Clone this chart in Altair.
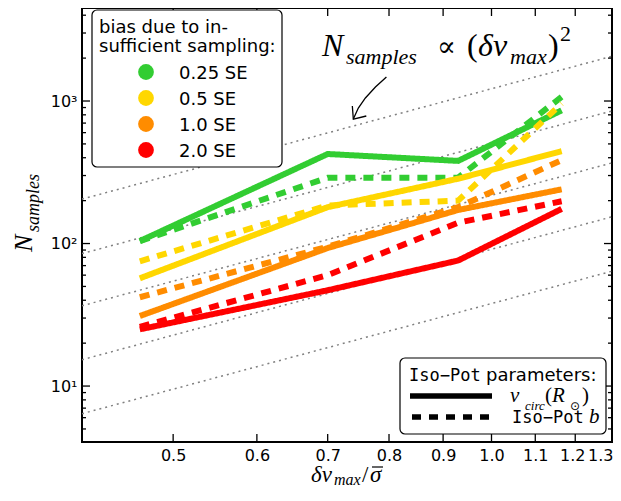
import altair as alt
import pandas as pd

# ---------------- data ----------------
dv = [0.465, 0.70, 0.93, 1.165]
bias_levels = ["0.25 SE", "0.5 SE", "1.0 SE", "2.0 SE"]
bias_colors = ["#32cd32", "#ffd700", "#ff8c00", "#ff0000"]

vcirc_025 = [104, 425, 380, 860]
vcirc_05 = [57, 180, 285, 445]
vcirc_10 = [31, 93, 172, 240]
vcirc_20 = [25, 47, 76, 175]

isob_025 = [104, 290, 290, 1070]
isob_05 = [75, 185, 200, 960]
isob_10 = [42, 95, 180, 385]
isob_20 = [26, 60, 140, 198]

# dotted N ~ dv^2 guide lines, values at the left / right plot edge
guide_x = [0.41, 1.30]
guide_left = [205, 85, 36.6, 15.3, 6.4]
guide_right = [2060, 852, 368, 154, 64]

x_ticks = [0.5, 0.6, 0.7, 0.8, 0.9, 1.0, 1.1, 1.2, 1.3]
y_major = [10, 100, 1000]
y_minor = [5, 6, 7, 8, 9, 20, 30, 40, 50, 60, 70, 80, 90,
           200, 300, 400, 500, 600, 700, 800, 900, 2000, 3000, 4000]

# arrow of the annotation (data coordinates)
arrow_x = [0.7955, 0.7767, 0.7599, 0.7483, 0.7402]
arrow_n = [1474, 1254, 1050, 893, 747]
head_x = [0.7386, 0.7402, 0.7614]
head_n = [922, 747, 785]

# ---------------- tables ----------------
rows = []
series = [("0.25 SE", vcirc_025, isob_025), ("0.5 SE", vcirc_05, isob_05),
          ("1.0 SE", vcirc_10, isob_10), ("2.0 SE", vcirc_20, isob_20)]
for order, (b, vc, ib) in enumerate(series):
    for x, n in zip(dv, vc):
        rows.append({"dv": x, "N": n, "bias": b, "param": "vcirc", "grp": order * 2})
    for x, n in zip(dv, ib):
        rows.append({"dv": x, "N": n, "bias": b, "param": "isob", "grp": order * 2 + 1})
df = pd.DataFrame(rows)

grows = []
for i, (l, r) in enumerate(zip(guide_left, guide_right)):
    grows.append({"dv": guide_x[0], "N": l, "g": i})
    grows.append({"dv": guide_x[1], "N": r, "g": i})
gdf = pd.DataFrame(grows)

W, H = 530, 434
SANS = "DejaVu Sans"
SERIF = "Liberation Serif"
MONO = "DejaVu Sans Mono"

xs = alt.Scale(type="log", domain=[0.41, 1.30], nice=False)
ys = alt.Scale(type="log", domain=[4.05, 4494], nice=False)
x_axis = alt.Axis(values=x_ticks, format=".1f", ticks=False, domain=False,
                  grid=False, labelFont=SANS, labelFontSize=16,
                  labelColor="black", labelPadding=5, labelFlush=3,
                  labelFlushOffset=1, labelOverlap=False, title=None,
                  labelOffset={"condition": {"test": "datum.value > 1.15 && datum.value < 1.25",
                                             "value": -3}, "value": 0})
y_axis = alt.Axis(values=y_major, ticks=False, domain=False, grid=False,
                  labelExpr="datum.value == 10 ? '10¹' : datum.value == 100 ? '10²' : '10³'",
                  labelFont=SANS, labelFontSize=16, labelColor="black",
                  labelPadding=5, labelOverlap=False, title=None)
X = alt.X("dv:Q", scale=xs, axis=x_axis)
Y = alt.Y("N:Q", scale=ys, axis=y_axis)

guides = alt.Chart(gdf).mark_line(color="#808080", strokeWidth=1.5,
                                  strokeDash=[2, 4], clip=True).encode(
    x=X, y=Y, detail="g:N")

lines = alt.Chart(df).mark_line(strokeWidth=6, clip=True).encode(
    x=X, y=Y,
    color=alt.Color("bias:N", scale=alt.Scale(domain=bias_levels, range=bias_colors),
                    legend=None),
    strokeDash=alt.StrokeDash("param:N",
                              scale=alt.Scale(domain=["vcirc", "isob"],
                                              range=[[1, 0], [10, 8]]),
                              legend=None),
    detail="grp:N",
    order="grp:Q",
)

# ---------------- inward ticks ----------------
xt = pd.DataFrame({"dv": x_ticks})
ymaj = pd.DataFrame({"N": y_major})
ymin = pd.DataFrame({"N": y_minor})


def xtick(y1, y2):
    return alt.Chart(xt).mark_rule(color="black", strokeWidth=1.3).encode(
        x=X, y=alt.value(y1), y2=alt.value(y2))


def ytick(d, x1, x2):
    return alt.Chart(d).mark_rule(color="black", strokeWidth=1.3).encode(
        y=Y, x=alt.value(x1), x2=alt.value(x2))


ticks = [xtick(H - 8, H), xtick(0, 8),
         ytick(ymaj, 0, 8), ytick(ymaj, W - 8, W),
         ytick(ymin, 0, 4), ytick(ymin, W - 4, W)]

ONE = alt.Data(values=[{}])


def txt(s, x, y, size, font=SERIF, style="italic", angle=0):
    return alt.Chart(ONE).mark_text(text=s, font=font, fontSize=size, fontStyle=style,
                                    align="left", baseline="alphabetic", angle=angle,
                                    color="black").encode(x=alt.value(x), y=alt.value(y))


def bar(x1, x2, y, w=1.2, dash=None):
    kw = {"color": "black", "strokeWidth": w}
    if dash:
        kw["strokeDash"] = dash
    return alt.Chart(ONE).mark_rule(**kw).encode(
        x=alt.value(x1), x2=alt.value(x2), y=alt.value(y))


def frame(x1, x2, y1, y2):
    return alt.Chart(ONE).mark_rect(fill="white", stroke="black", strokeWidth=1.2,
                                    cornerRadius=5).encode(
        x=alt.value(x1), x2=alt.value(x2), y=alt.value(y1), y2=alt.value(y2))


# ---------------- first legend (bias levels) ----------------
leg1 = [frame(10, 200, 2, 159),
        txt("bias due to in-", 17, 25, 18, font=SANS, style="normal"),
        txt("sufficient sampling:", 17, 44, 18, font=SANS, style="normal")]
for i, (lab, col) in enumerate(zip(bias_levels, bias_colors)):
    yc = 64 + 26 * i
    leg1.append(alt.Chart(ONE).mark_circle(size=250, color=col, opacity=1).encode(
        x=alt.value(64), y=alt.value(yc)))
    leg1.append(txt(lab, 97, yc + 6.5, 18, font=SANS, style="normal"))

# ---------------- annotation ----------------
ann = [
    txt("N", 240, 48, 32),
    txt("samples", 264, 56, 22),
    txt("∝", 355, 48, 28, font="DejaVu Serif", style="normal"),
    txt("(", 385, 48, 32, style="normal"),
    txt("δv", 396, 48, 32),
    txt("max", 428, 56, 22),
    txt(")", 466, 48, 32, style="normal"),
    txt("2", 478, 33, 22, style="normal"),
]
arrow = alt.Chart(pd.DataFrame({"dv": arrow_x, "N": arrow_n})).mark_line(
    color="black", strokeWidth=1.3).encode(x=X, y=Y, order="N:Q")
head = alt.Chart(pd.DataFrame({"dv": head_x, "N": head_n, "o": [0, 1, 2]})).mark_line(
    color="black", strokeWidth=1.3).encode(x=X, y=Y, order="o:Q")

# axis titles
axis_titles = [
    txt("δv", 229, 474, 23),
    txt("max", 252, 477, 16),
    txt("/", 280, 474, 23, style="normal"),
    txt("σ", 288, 474, 23),
    bar(290, 301, 459, 1.2),
    txt("N", -50, 244, 26, angle=270),
    txt("samples", -43, 224, 18, angle=270),
]

# ---------------- second legend (parameters) ----------------
leg2 = [
    frame(318, 524, 350, 426), bar(328, 410, 388, 5.5), bar(330, 410, 409, 5.5, [9, 8]),
    txt("Iso−Pot", 327, 373, 17, font=MONO, style="normal"),
    txt("parameters:", 404, 373, 18, font=SANS, style="normal"),
    txt("v", 428, 394, 21),
    txt("circ", 443, 402, 13),
    txt("(", 463, 394, 21, style="normal"),
    txt("R", 470, 394, 21),
    txt("⊙", 488, 402, 12, font=SANS, style="normal"),
    txt(")", 500, 394, 21, style="normal"),
    txt("Iso−Pot", 430, 415, 17, font=MONO, style="normal"),
    txt("b", 507, 415, 21),
]

chart = alt.layer(
    guides, lines, *ticks, arrow, head, *ann, *axis_titles, *leg1, *leg2
).properties(
    width=W, height=H,
    autosize=alt.AutoSizeParams(type="none"),
    padding={"left": 74, "top": 0, "right": 1, "bottom": 46},
).configure_view(stroke="black", strokeWidth=2)

chart.save("out.html", embed_options={"renderer": "svg", "actions": False})
